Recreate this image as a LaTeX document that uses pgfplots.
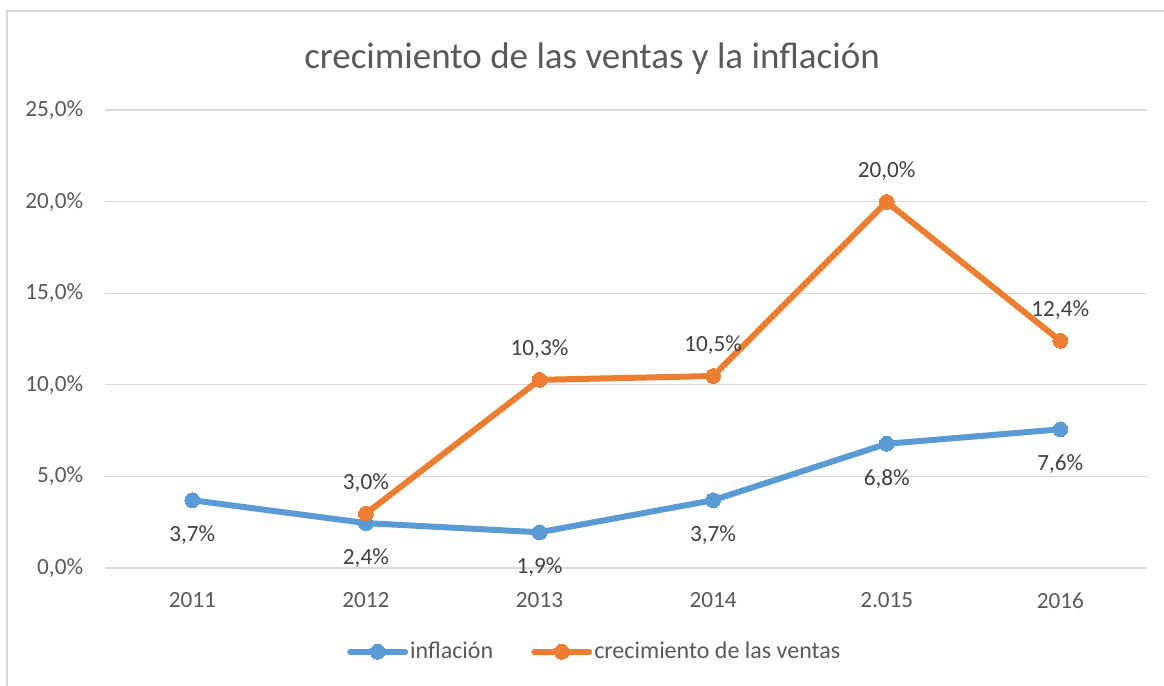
\documentclass[border=0pt]{standalone}
\usepackage{pgfplots}
\pgfplotsset{compat=1.18}
\usepackage{fontspec}
\setmainfont{Carlito}
\definecolor{xlblue}{RGB}{91,155,213}
\definecolor{xlorange}{RGB}{237,125,49}
\definecolor{xlgrid}{RGB}{217,217,217}
\definecolor{xltext}{RGB}{89,89,89}
\definecolor{xllabel}{RGB}{64,64,64}

\begin{document}
\begin{tikzpicture}
\useasboundingbox (-52.75pt,-59pt) rectangle (529.25pt,284pt);
\draw[xlgrid,line width=0.9pt] (-49.25pt,-59pt) -- (-49.25pt,278.5pt) -- (529.25pt,278.5pt);
\node[anchor=base,font=\fontsize{18.5}{22}\selectfont,text=xltext] at (243.25pt,249.5pt)
  {crecimiento de las ventas y la inflación};
\begin{axis}[
  at={(0pt,0pt)},
  anchor=south west,
  scale only axis,
  width=520.8pt,
  height=229pt,
  xmin=-0.5, xmax=5.5,
  ymin=0, ymax=25,
  xtick={0,1,2,3,4,5},
  xticklabels={2011,2012,2013,2014,2.015,2016},
  ytick={0,5,10,15,20,25},
  yticklabels={{0,0\%},{5,0\%},{10,0\%},{15,0\%},{20,0\%},{25,0\%}},
  axis line style={draw=none},
  major tick length=0pt,
  ymajorgrids=true,
  grid style={xlgrid,line width=0.7pt},
  tick label style={font=\fontsize{11.6}{13}\selectfont,text=xltext,inner sep=0pt},
  yticklabel style={anchor=east,xshift=-11pt},
  xticklabel style={anchor=north,yshift=-12pt},
  /pgf/number format/assume math mode=true,
  clip=false,
  legend columns=2,
  legend style={
    at={(0.4697,-0.183)},
    anchor=center,
    draw=none,
    fill=none,
    font=\fontsize{12}{14}\selectfont,
    text=xltext,
    /tikz/every even column/.append style={column sep=18pt},
    /tikz/every odd column/.append style={column sep=0pt},
    nodes={inner xsep=1pt},
    inner sep=0pt,
  },
  legend cell align=left,
  legend image code/.code={
    \draw[#1,mark repeat=2,mark phase=2] plot coordinates {(0pt,0pt) (13.75pt,0pt) (27.5pt,0pt)};
  },
  nodes near coords,
  point meta=explicit symbolic,
]
\addplot[
  color=xlblue, line width=3pt, line join=round, line cap=round,
  mark=*, mark size=3.7pt, mark options={fill=xlblue,draw=xlblue,line width=0pt},
  every node near coord/.append style={anchor=center,yshift=-17.5pt,
    font=\fontsize{11.6}{13}\selectfont,text=xllabel},
] coordinates {
  (0,3.70) [3,7\%]
  (1,2.45) [2,4\%]
  (2,1.95) [1,9\%]
  (3,3.70) [3,7\%]
  (4,6.78) [6,8\%]
  (5,7.57) [7,6\%]
};
\addlegendentry{inflación}
\addplot[
  color=xlorange, line width=3pt, line join=round, line cap=round,
  mark=*, mark size=3.7pt, mark options={fill=xlorange,draw=xlorange,line width=0pt},
  every node near coord/.append style={anchor=center,yshift=15.5pt,
    font=\fontsize{11.6}{13}\selectfont,text=xllabel},
] coordinates {
  (1,2.97) [3,0\%]
  (2,10.27) [10,3\%]
  (3,10.48) [10,5\%]
  (4,19.98) [20,0\%]
  (5,12.40) [12,4\%]
};
\addlegendentry{crecimiento de las ventas}
\end{axis}
\end{tikzpicture}
\end{document}
